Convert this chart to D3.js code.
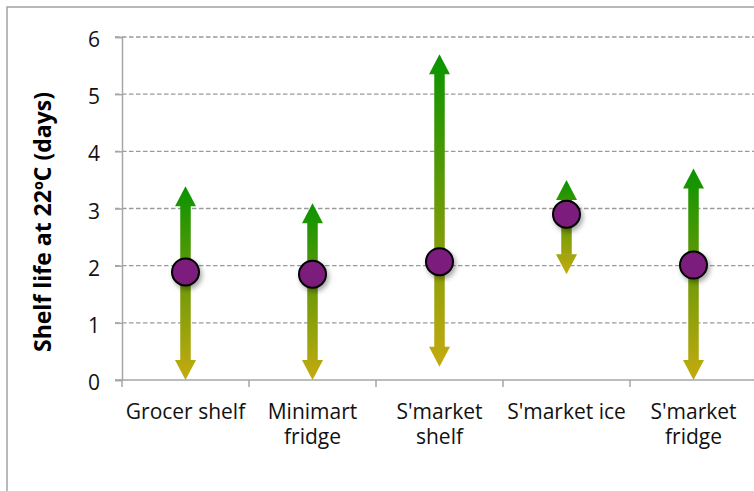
<!DOCTYPE html>
<html>
<head>
<meta charset="utf-8">
<script src="https://cdn.jsdelivr.net/npm/d3@7"></script>
<style>
  html, body { margin: 0; padding: 0; background: #fff; }
  svg { display: block; }
</style>
</head>
<body>
<svg id="chart" width="754" height="491"></svg>
<script>
// ---- data ----
const categories = ["Grocer shelf", "Minimart fridge", "S'market shelf", "S'market ice", "S'market fridge"];
const labelLines = [["Grocer shelf"], ["Minimart", "fridge"], ["S'market", "shelf"], ["S'market ice"], ["S'market", "fridge"]];
const means = [1.89, 1.85, 2.07, 2.90, 2.01];
const highs = [3.39, 3.09, 5.70, 3.50, 3.70];
const lows  = [0.00, 0.00, 0.23, 1.85, 0.00];
const yTicks = [0, 1, 2, 3, 4, 5, 6];
const yTitle = "Shelf life at 22ºC (days)";

const svg = d3.select("#chart");
const W = 754, H = 491;
const FONT = "'Open Sans', 'Liberation Sans', sans-serif";

// outer chart border
svg.append("rect").attr("x", 7).attr("y", 7).attr("width", W + 10).attr("height", H + 10)
  .attr("fill", "#fff").attr("stroke", "#a3a3a3").attr("stroke-width", 1.5);

const x = d3.scaleBand().domain(categories).range([122, 757]).padding(0);
const y = d3.scaleLinear().domain([0, 6]).range([380, 37]);

const defs = svg.append("defs");
const shadow = defs.append("filter").attr("id", "shadow")
  .attr("x", "-50%").attr("y", "-50%").attr("width", "200%").attr("height", "200%");
shadow.append("feDropShadow").attr("dx", 2).attr("dy", 3).attr("stdDeviation", 2.5)
  .attr("flood-color", "#000").attr("flood-opacity", 0.35);

// gridlines
svg.append("g").selectAll("line").data(yTicks.filter(d => d > 0)).join("line")
  .attr("x1", 115).attr("x2", W).attr("y1", d => y(d)).attr("y2", d => y(d))
  .attr("stroke", "#9a9a9a").attr("stroke-width", 1.3).attr("stroke-dasharray", "4.5,2.5");

// y axis
const yAxis = svg.append("g").attr("transform", "translate(122,0)")
  .call(d3.axisLeft(y).tickValues(yTicks).tickSize(7).tickPadding(15).tickFormat(d3.format("d")));
yAxis.select(".domain").attr("stroke", "#a6a6a6").attr("stroke-width", 1.5);
yAxis.selectAll(".tick line").attr("stroke", "#a6a6a6").attr("stroke-width", 1.5);
yAxis.selectAll(".tick text").attr("font-family", FONT).attr("font-size", 21).attr("fill", "#111")
  .attr("dy", "0.36em").attr("y", 2);

// x axis line
svg.append("line").attr("x1", 115).attr("x2", W).attr("y1", y(0)).attr("y2", y(0))
  .attr("stroke", "#a6a6a6").attr("stroke-width", 1.5);
// category boundary ticks
svg.append("g").selectAll("line").data(categories).join("line")
  .attr("x1", d => x(d)).attr("x2", d => x(d)).attr("y1", y(0)).attr("y2", y(0) + 7)
  .attr("stroke", "#a6a6a6").attr("stroke-width", 1.5);

// x labels
const lab = svg.append("g").selectAll("text").data(categories).join("text")
  .attr("font-family", FONT).attr("font-size", 21).attr("fill", "#111")
  .attr("text-anchor", "middle");
lab.each(function(d, i) {
  const t = d3.select(this);
  labelLines[i].forEach((line, j) => {
    t.append("tspan").attr("x", x(d) + x.bandwidth() / 2).attr("y", 419 + j * 25).text(line);
  });
});

// y title
svg.append("text").attr("transform", "translate(51,222) rotate(-90)")
  .attr("text-anchor", "middle").attr("font-family", FONT).attr("font-weight", "bold")
  .attr("font-size", 23).attr("fill", "#000").text(yTitle);

// arrows
const shaftW = 10.5, headW = 21, headH = 20;
const rows = categories.map((c, i) => ({ c, i, mean: means[i], hi: highs[i], lo: lows[i] }));

rows.forEach(r => {
  const g = defs.append("linearGradient").attr("id", "grad" + r.i)
    .attr("gradientUnits", "userSpaceOnUse")
    .attr("x1", 0).attr("x2", 0).attr("y1", y(r.hi)).attr("y2", y(r.lo));
  g.append("stop").attr("offset", "0%").attr("stop-color", "#089400");
  g.append("stop").attr("offset", "50%").attr("stop-color", "#6e9a08");
  g.append("stop").attr("offset", "100%").attr("stop-color", "#c4ab0f");
});

const arrows = svg.append("g").selectAll("g").data(rows).join("g");
arrows.each(function(r) {
  const gsel = d3.select(this);
  const cx = x(r.c) + x.bandwidth() / 2;
  const yt = y(r.hi), yb = y(r.lo);
  const fill = `url(#grad${r.i})`;
  gsel.append("rect").attr("x", cx - shaftW / 2).attr("y", yt + headH - 0.5)
    .attr("width", shaftW).attr("height", Math.max(0, yb - yt - 2 * headH + 1)).attr("fill", fill);
  gsel.append("path").attr("d", `M${cx},${yt} L${cx + headW / 2},${yt + headH} L${cx - headW / 2},${yt + headH} Z`).attr("fill", fill);
  gsel.append("path").attr("d", `M${cx},${yb} L${cx + headW / 2},${yb - headH} L${cx - headW / 2},${yb - headH} Z`).attr("fill", fill);
});

// mean dots
svg.append("g").selectAll("circle").data(rows).join("circle")
  .attr("cx", r => x(r.c) + x.bandwidth() / 2).attr("cy", r => y(r.mean)).attr("r", 13.5)
  .attr("fill", "#7c1c7c").attr("stroke", "#000").attr("stroke-width", 2)
  .attr("filter", "url(#shadow)");
</script>
</body>
</html>
